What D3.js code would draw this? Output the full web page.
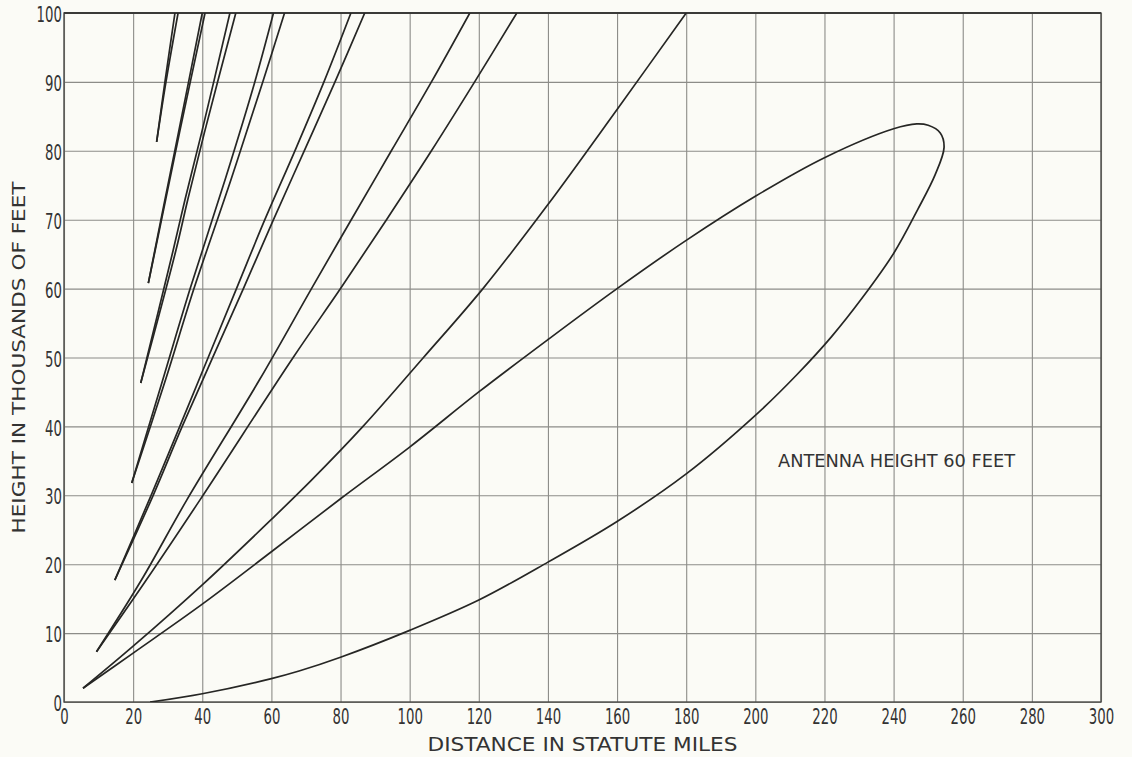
<!DOCTYPE html>
<html><head><meta charset="utf-8">
<script src="https://cdn.jsdelivr.net/npm/d3@7"></script>
<style>
html,body{margin:0;padding:0;background:#fbfbf6;}
svg{display:block;}
</style></head><body>
<svg id="chart" width="1132" height="757"></svg>
<script>
// ---- tick labels ----
const xTicks = [0,20,40,60,80,100,120,140,160,180,200,220,240,260,280,300];
const yTicks = [0,10,20,30,40,50,60,70,80,90,100];

// ---- lobe boundaries: [distance (statute miles), height (thousands of feet)] ----
const lobe1Loop = [[24.9,0],[40,1.2],[60,3.4],[68,4.5],[80,6.5],[100,10.4],[120,14.8],[140,20.3],[160,26.2],[180,33.1],[200,41.6],[212,47.5],[222,53],[231,58.7],[240,65.1],[247,71.5],[252,76.5],[254.6,80.5],[253.5,82.6],[250,83.7],[246.7,83.9],[240,83.2],[220,79],[200,73.4],[180,67],[160,60],[140,52.6],[120,45],[100,37],[80,29.5],[60,21.8],[40,14.2],[20,7.1],[5.5,2]];
const lobe2Lower = [[5.5,2],[20,8.1],[40,17],[60,26.5],[71.6,32.2],[86.5,40],[104,50],[121.2,60],[140,72.2],[160,86],[180,100]];
const lobe2Upper = [[9.4,7.3],[23.8,17.7],[39.3,29.3],[66.3,50],[80,60],[93.3,70],[106.3,80],[118.8,90],[131,100]];
const lobe3Lower = [[9.4,7.3],[22.4,17.7],[35.5,29.3],[56.6,46.8],[71.6,60],[83.1,70],[94.7,80],[106.3,90],[117.4,100]];
const lobe3Upper = [[14.7,17.7],[25.8,30],[34.2,40],[51.9,60],[60.6,70],[69.5,80],[78.4,90],[87,100]];
const lobe4Lower = [[14.7,17.7],[25.2,30],[33.5,40],[49.9,60],[58.1,70],[66.8,80],[75.2,90],[83,100]];
const lobe4Upper = [[19.6,31.8],[29.4,46.8],[37.6,60],[48.3,75.8],[57.5,90],[63.8,100]];
const lobe5Lower = [[19.6,31.8],[28.6,46.8],[36.5,60],[46.6,75.8],[55.2,90],[60.6,100]];
const lobe5Upper = [[22.2,46.3],[32.4,65.6],[35.8,72.9],[40.6,82.6],[49.7,100]];
const lobe6Lower = [[22.2,46.3],[31.6,65.6],[35,72.9],[39.8,82.6],[48,100]];
const lobe6Upper = [[24.4,60.8],[26.4,65.6],[29.4,72.9],[33.4,82.6],[40.8,100]];
const lobe7Lower = [[24.4,60.8],[26.3,65.6],[29.2,72.9],[33.1,82.6],[40,100]];
const lobe7Upper = [[26.8,81.3],[29.5,90],[33,100]];
const lobe8Lower = [[26.8,81.3],[29.2,90],[32.1,100]];

const curves = [lobe1Loop, lobe2Lower, lobe2Upper, lobe3Lower, lobe3Upper, lobe4Lower, lobe4Upper,
                lobe5Lower, lobe5Upper, lobe6Lower, lobe6Upper, lobe7Lower, lobe7Upper, lobe8Lower];

const xLabel = "DISTANCE IN STATUTE MILES";
const yLabel = "HEIGHT IN THOUSANDS OF FEET";
const note = "ANTENNA HEIGHT 60 FEET";

// ---- layout ----
const L = 64, R = 1101, T = 13, B = 702;
const svg = d3.select("#chart");
svg.append("rect").attr("width",1132).attr("height",757).attr("fill","#fbfbf6");

const x = d3.scaleLinear().domain([0,300]).range([L,R]);
const y = d3.scaleLinear().domain([0,100]).range([B,T]);

// grid
const gx = svg.append("g").attr("transform",`translate(0,${B})`)
  .call(d3.axisBottom(x).tickValues(xTicks).tickSize(-(B-T)).tickFormat(""));
const gy = svg.append("g").attr("transform",`translate(${L},0)`)
  .call(d3.axisLeft(y).tickValues(yTicks).tickSize(-(R-L)).tickFormat(""));
[gx,gy].forEach(g=>{
  g.select(".domain").remove();
  g.selectAll(".tick line").attr("stroke","#8c8c88").attr("stroke-width",1.1);
});

// frame
svg.append("rect").attr("x",L).attr("y",T).attr("width",R-L).attr("height",B-T)
  .attr("fill","none").attr("stroke","#4a4a48").attr("stroke-width",1.4);
svg.append("line").attr("x1",L).attr("x2",R).attr("y1",T).attr("y2",T)
  .attr("stroke","#3a3a38").attr("stroke-width",2);

// tick labels (narrow lettering)
const tickFont = "'Liberation Sans Narrow','DejaVu Sans Condensed','DejaVu Sans',sans-serif";
const lx = svg.append("g").attr("transform",`translate(0,${B})`)
  .call(d3.axisBottom(x).tickValues(xTicks).tickSize(0).tickPadding(7));
const ly = svg.append("g").attr("transform",`translate(${L},0)`)
  .call(d3.axisLeft(y).tickValues(yTicks).tickSize(0).tickPadding(3));
[lx,ly].forEach(g=>{
  g.select(".domain").remove();
  g.selectAll("text").attr("font-family",tickFont).attr("font-size",20.5).attr("fill","#333")
    .attr("transform","scale(0.72,1)");
});
ly.selectAll("text").attr("dy","0.42em");

// curves
svg.append("clipPath").attr("id","plot").append("rect")
  .attr("x",L).attr("y",T).attr("width",R-L).attr("height",B-T);
const line = d3.line().x(d=>x(d[0])).y(d=>y(d[1])).curve(d3.curveCatmullRom.alpha(0.5));
svg.append("g").attr("clip-path","url(#plot)").selectAll("path").data(curves).join("path")
  .attr("d",line).attr("fill","none").attr("stroke","#262624").attr("stroke-width",1.7)
  .attr("stroke-linejoin","round");

// texts
const labFont = "'DejaVu Sans','Liberation Sans',sans-serif";
svg.append("text").attr("x",(L+R)/2).attr("y",751).attr("text-anchor","middle")
  .attr("font-family",labFont).attr("font-size",19).attr("fill","#333")
  .attr("textLength",310).attr("lengthAdjust","spacingAndGlyphs").text(xLabel);
svg.append("text").attr("transform",`translate(25,${(T+B)/2}) rotate(-90)`).attr("text-anchor","middle")
  .attr("font-family",labFont).attr("font-size",18).attr("fill","#333")
  .attr("textLength",352).attr("lengthAdjust","spacingAndGlyphs").text(yLabel);
svg.append("text").attr("x",778).attr("y",467)
  .attr("font-family",labFont).attr("font-size",17).attr("fill","#333")
  .attr("textLength",237).attr("lengthAdjust","spacingAndGlyphs").text(note);
</script>
</body></html>
